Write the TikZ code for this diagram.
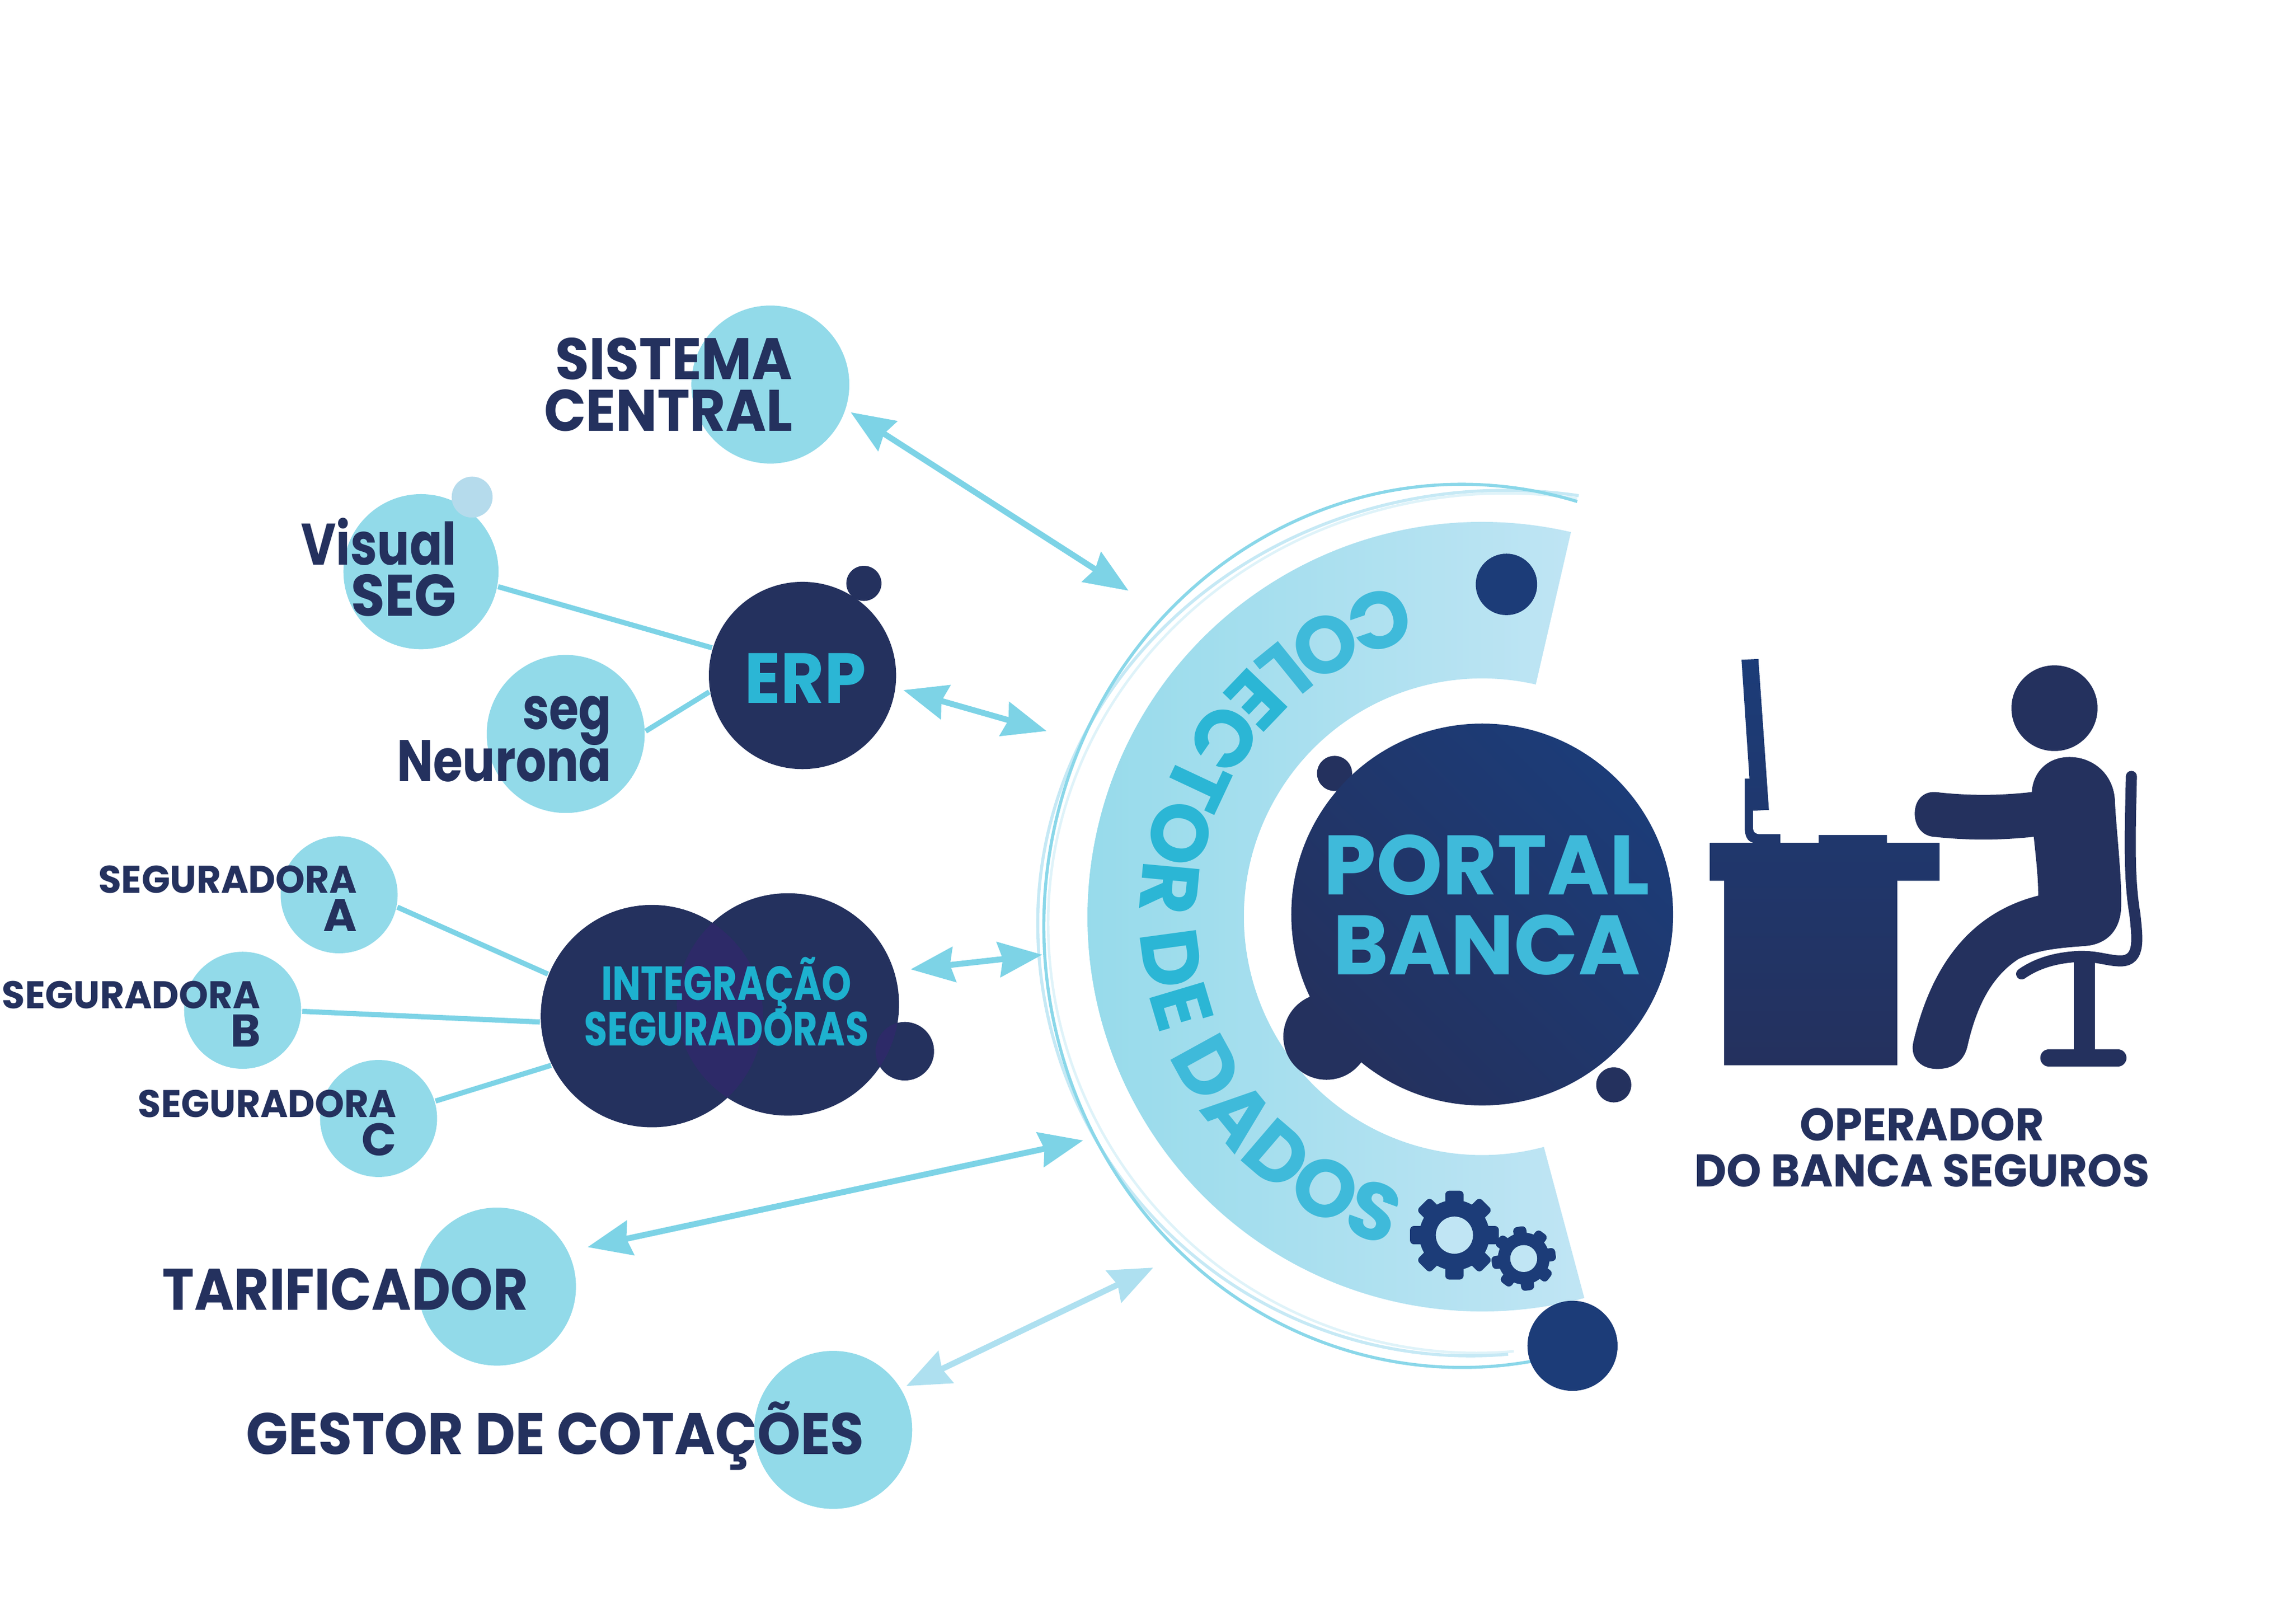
\documentclass[tikz,border=0pt]{standalone}
\usepackage{fontspec}
\setmainfont{Poppins}
\newfontfamily\fcapa{Poppins}[FakeStretch=0.94]
\newfontfamily\fcapb{Poppins}[FakeStretch=0.97]
\newfontfamily\fcapc{Poppins}[FakeStretch=0.92]
\newfontfamily\flow{Poppins}[FakeStretch=0.82]
\newfontfamily\fint{Poppins}[FakeStretch=0.79]
\usetikzlibrary{arrows.meta}
\usetikzlibrary{decorations.text}
\definecolor{navy}{HTML}{24315E}
\definecolor{deep}{HTML}{1C3C78}
\definecolor{bubble}{HTML}{92DAE9}
\definecolor{pale}{HTML}{B5DBEC}
\definecolor{shaft}{HTML}{7DD3E6}
\definecolor{shaftb}{HTML}{AEE0F0}
\definecolor{ringa}{HTML}{94DAEA}
\definecolor{ringb}{HTML}{C0E5F4}
\definecolor{teal}{HTML}{2BB6D5}
\definecolor{tealb}{HTML}{3FBADA}
\definecolor{tealc}{HTML}{1DB1CF}
\definecolor{veil}{HTML}{2D2A68}
\tikzset{disc/.style = {circle, inner sep = 0, minimum size = #1*0.02cm}}
\tikzset{lab/.style 2 args = {inner sep = 0, text = navy, align = right, anchor = east, font = \bfseries\fontsize{#1}{#2}\selectfont}}
\tikzset{mid/.style 2 args = {inner sep = 0, align = center, font = \bfseries\fontsize{#1}{#2}\selectfont}}
\tikzset{link/.style = {shaft, line width = 1pt}}
\tikzset{dbl/.style = {shaft, line width = 1.15pt, {Stealth[length=8.5pt,width=6.8pt,inset=0.8pt]}-{Stealth[length=8.5pt,width=6.8pt,inset=0.8pt]}}}
\newcommand{\cogwheel}[7]{
        \foreach \a in {0,45,...,315}
                \fill [#7, rounded corners=0.8pt, rotate around={\a+#6:(#1,#2)}] (#1-#5/2,#2) rectangle (#1+#5/2,#2-#3);
        \fill [#7] (#1,#2) circle [radius=#4];
}
\begin{document}
\begin{tikzpicture}[x=0.01cm,y=-0.01cm]
        \useasboundingbox (0,0) rectangle (1568,1110.4);
        \coordinate (cc) at (1014,627);

        \draw [shaftb!40, line width=0.5pt] (1079,341) arc [start angle=-81, end angle=-180, x radius=313, y radius=294]
                arc [start angle=180, end angle=85, x radius=293, y radius=294];
        \draw [shaftb!70, line width=0.6pt] (1080,339) arc [start angle=-81, end angle=-180, x radius=320, y radius=296]
                arc [start angle=180, end angle=85, x radius=296, y radius=296];
        \draw [shaft!90, line width=0.6pt] (1079,343) arc [start angle=-74, end angle=-286, x radius=286, y radius=302];

        \path [left color=ringa, right color=ringb] ([shift={(-77:270)}]cc) arc [start angle=-77, end angle=-285, radius=270]
                -- ([shift={(-285:163)}]cc) arc [start angle=-285, end angle=-77, radius=163] -- cycle;
        \path [decorate, decoration={text along path, text align={fit to path},
                text={|\bfseries\fontsize{15.7}{16}\selectfont\color{tealb}|COL|+\color{teal}|ECTOR DE |+\color{tealb}|DADOS}}]
                ([shift={(-104:234)}]cc) arc [start angle=-104, end angle=-254, radius=234];

        \node [disc=21, fill=deep] (top) at (1030.6,399.7) {};
        \node [disc=30.8, fill=deep] (low) at (1075.8,920.5) {};
        \cogwheel{995}{844.8}{30.4}{24}{12.6}{0}{deep}
        \cogwheel{1042.4}{860.8}{22}{17.7}{9}{8}{deep}
        \fill [ringb] (995,844.8) circle [radius=12.7];
        \fill [ringb] (1042.4,860.8) circle [radius=9.2];

        \node [disc=12, fill=navy] (pa) at (913,529) {};
        \node [disc=29.5, fill=navy] (pb) at (907.5,709) {};
        \node [disc=12, fill=navy] (pc) at (1104,742) {};
        \node [disc=130.5, top color=deep, bottom color=navy, shading angle=-45] (portal) at (1014,625.5) {};
        \node [mid={16.4}{15.5}, text=tealb] (portaltxt) at (1017,619) {PORTAL\\BANCA};

        \node [disc=54, fill=bubble] (sistema) at (527,263) {};
        \node [lab={11.4}{10}] (sistematxt) at (543,263) {\fcapa SISTEMA\\\fcapa CENTRAL};
        \node [disc=53, fill=bubble] (visual) at (288,391) {};
        \node [disc=14, fill=pale] (visualb) at (323,340) {};
        \node [lab={11.4}{10}] (visualtxt) at (313,388) {\flow Visual\\\fcapa SEG};
        \node [disc=54, fill=bubble] (neurona) at (387,502) {};
        \node [lab={11.4}{9.4}] (neuronatxt) at (419,505.5) {\flow seg\\[-2pt]\flow Neurona};
        \node [disc=64, fill=navy] (erp) at (549,462) {};
        \node [disc=12, fill=navy] (erpb) at (591,399) {};
        \node [mid={13.8}{14}, text=teal] (erptxt) at (551,464) {\fcapa ERP};
        \draw [link] (visual.-11) -- (erp.163);
        \draw [link] (neurona.2) -- (erp.190);

        \node [disc=40, fill=bubble] (sega) at (232,612) {};
        \node [disc=40, fill=bubble] (segb) at (166,691) {};
        \node [disc=40, fill=bubble] (segc) at (259,765) {};
        \node [lab={7.5}{7.5}] (segatxt) at (245,614.5) {\fcapb SEGURADORA\\{\fontsize{8.9}{8}\selectfont A}};
        \node [lab={7.5}{7.5}] (segbtxt) at (179,693.5) {\fcapb SEGURADORA\\{\fontsize{8.9}{8}\selectfont B}};
        \node [lab={7.5}{7.5}] (segctxt) at (272,768) {\fcapb SEGURADORA\\{\fontsize{8.9}{8}\selectfont C}};
        \node [disc=76, fill=navy] (intl) at (446,695) {};
        \node [disc=76, fill=navy] (intr) at (539,687) {};
        \node [disc=20, fill=navy] (intb) at (619,719) {};
        \begin{scope}
                \clip (446,695) circle [radius=76];
                \fill [veil] (539,687) circle [radius=76];
        \end{scope}
        \begin{scope}
                \clip (619,719) circle [radius=20];
                \fill [veil] (539,687) circle [radius=76];
        \end{scope}
        \node [mid={9.3}{8.9}, text=tealc] (inttxt) at (497,685) {\fint INTEGRAÇÃO\\[-1.3pt]\fint SEGURADORAS};
        \draw [link] (sega.-12) -- (intl.158);
        \draw [link] (segb.-1) -- (intl.183);
        \draw [link] (segc.17) -- (intl.206);

        \node [disc=54, fill=bubble] (tarif) at (340,880) {};
        \node [lab={11.4}{10}] (tariftxt) at (362,882) {\fcapc TARIFICADOR};
        \node [disc=54, fill=bubble] (gestor) at (570,978) {};
        \node [lab={11.4}{10}] (gestortxt) at (592,982) {\fcapa GESTOR DE COTAÇÕES};

        \coordinate (a1) at (582,282);
        \coordinate (a2) at (772,404);
        \coordinate (b1) at (618,472);
        \coordinate (b2) at (716,500);
        \coordinate (c1) at (623,663);
        \coordinate (c2) at (713,653);
        \coordinate (d1) at (402,853);
        \coordinate (d2) at (741,780);
        \coordinate (e1) at (620,948);
        \coordinate (e2) at (789,867);
        \draw [dbl] (a1) -- (a2);
        \draw [dbl] (b1) -- (b2);
        \draw [dbl] (c1) -- (c2);
        \draw [dbl] (d1) -- (d2);
        \draw [dbl, shaftb] (e1) -- (e2);

        \begin{scope}[shift={(1158.2,436.7)},x=0.00218cm,y=-0.002544cm]
                \path [top color=deep, bottom color=navy] (152,57) -- (205,55) -- (238,460) -- (188,462) -- (188,505)
                        .. controls (188,520) and (195,525) .. (210,525) -- (274,525) -- (274,548) -- (394,548) -- (394,527) -- (608,527)
                        -- (608,548) -- (773,548) -- (773,650) -- (640,650) -- (640,1145) -- (98,1145) -- (98,650) -- (53,650) -- (53,548)
                        -- (190,548) .. controls (170,545) and (162,530) .. (162,505) -- (162,376) -- (177,376) -- cycle;
                \fill [navy] (1133,187) circle [x radius=135, y radius=115];
                \fill [navy] (1062,412) .. controls (960,422) and (860,422) .. (760,412)
                        .. controls (720,410) and (695,435) .. (695,470) .. controls (695,505) and (720,530) .. (755,532)
                        .. controls (860,542) and (960,542) .. (1068,532) .. controls (1075,590) and (1082,640) .. (1082,690)
                        .. controls (850,740) and (740,900) .. (690,1085) .. controls (680,1130) and (720,1155) .. (765,1155)
                        .. controls (820,1155) and (850,1130) .. (860,1095) .. controls (890,980) and (940,905) .. (1020,860)
                        .. controls (1080,835) and (1150,830) .. (1230,825) .. controls (1300,820) and (1340,780) .. (1342,720)
                        .. controls (1345,640) and (1325,500) .. (1322,430) .. controls (1315,360) and (1250,318) .. (1180,318)
                        .. controls (1110,318) and (1065,360) .. (1062,412) -- cycle;
                \draw [navy, line width=2.15pt, line cap=round] (1374,370) .. controls (1370,520) and (1365,640) .. (1385,740)
                        .. controls (1392,800) and (1405,865) .. (1340,865) .. controls (1300,865) and (1270,852) .. (1210,853)
                        .. controls (1140,856) and (1080,870) .. (1030,900);
                \fill [navy] (1193,865) rectangle (1260,1110);
                \draw [navy, line width=3.3pt, line cap=round] (1115,1125) -- (1332,1125);
        \end{scope}
        \node [mid={8.9}{9}, text=navy] (optxt) at (1315,785) {\fcapb OPERADOR\\\fcapb DO BANCA SEGUROS};
\end{tikzpicture}
\end{document}
